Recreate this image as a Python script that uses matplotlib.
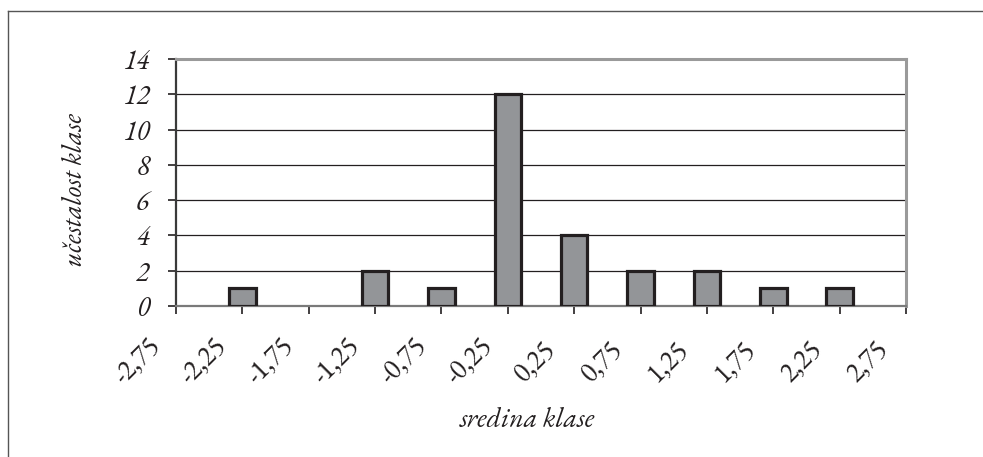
import numpy as np
import matplotlib
matplotlib.use("Agg")
import matplotlib.pyplot as plt
from matplotlib.lines import Line2D
import matplotlib.transforms as mtransforms

# ----------------- data -----------------
# bar positions (class boundaries) and frequencies
bar_x = [-2.0, -1.0, -0.5, 0.0, 0.5, 1.0, 1.5, 2.0, 2.5]
counts = [1, 2, 1, 12, 4, 2, 2, 1, 1]

# class midpoints shown as axis labels
label_x = [-2.75, -2.25, -1.75, -1.25, -0.75, -0.25, 0.25, 0.75, 1.25, 1.75, 2.25, 2.75]
label_txt = [f"{v:.2f}".replace(".", ",") for v in label_x]

y_ticks = [0, 2, 4, 6, 8, 10, 12, 14]

plt.rcParams['font.family'] = ['EB Garamond', 'Liberation Serif', 'DejaVu Serif']

fig = plt.figure(figsize=(9.83, 4.57), dpi=100)
ax = fig.add_axes([176 / 983, 151 / 457, 730 / 983, 247 / 457])

# bars
ax.bar(bar_x, counts, width=0.2, color="#939598", edgecolor="#231f20",
       linewidth=2.3, zorder=3)

# axes limits / ticks
ax.set_xlim(-2.5, 3.0)
ax.set_ylim(0, 14)
ax.set_xticks(np.arange(-2.5, 3.01, 0.5))
ax.set_xticklabels([])
ax.set_yticks(y_ticks)
ax.set_yticklabels([str(v) for v in y_ticks], fontsize=20, style="italic",
                   color="#231f20")
ax.tick_params(axis="both", direction="out", length=6, width=1.2,
               color="#231f20")
ax.tick_params(axis="y", pad=13)

# grid
ax.yaxis.grid(True, color="#231f20", linewidth=0.9, zorder=0)
ax.set_axisbelow(True)

# spines
for s in ["top", "right"]:
    ax.spines[s].set_color("#9a9a9a")
    ax.spines[s].set_linewidth(2.2)
ax.spines["left"].set_color("#3a3a3a")
ax.spines["left"].set_linewidth(1.6)
ax.spines["bottom"].set_color("#7a7a7a")
ax.spines["bottom"].set_linewidth(1.6)

# rotated x labels at class midpoints
trans = mtransforms.blended_transform_factory(ax.transData, ax.transAxes)
for xv, t in zip(label_x, label_txt):
    ax.text(xv - 0.035, -0.227, t, transform=trans, rotation=45,
            ha="center", va="center", fontsize=20, color="#231f20",
            clip_on=False)

# axis titles
ax.set_ylabel("učestalost klase", fontsize=20, style="italic", color="#231f20")
ax.yaxis.set_label_coords(-0.118, 0.47)
ax.set_xlabel("sredina klase", fontsize=20, style="italic", color="#231f20",
              va="top")
ax.xaxis.set_label_coords(0.481, -0.41)

# outer frame (top and left only)
fig.add_artist(Line2D([8 / 983, 1.0], [1 - 11 / 457, 1 - 11 / 457],
                      color="#555555", linewidth=1.0))
fig.add_artist(Line2D([8 / 983, 8 / 983], [0.0, 1 - 11 / 457],
                      color="#555555", linewidth=1.0))

fig.savefig("out.png", dpi=100)
